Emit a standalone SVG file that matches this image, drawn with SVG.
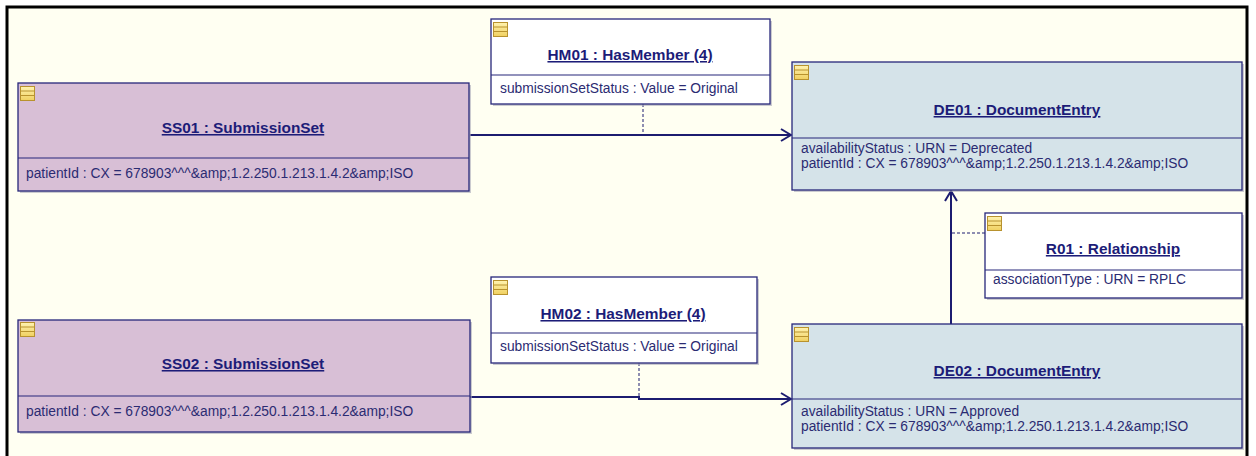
<svg xmlns="http://www.w3.org/2000/svg" xmlns:xlink="http://www.w3.org/1999/xlink" width="1256" height="456" viewBox="0 0 1256 456">
<style>
.frame{fill:none;stroke:#000;stroke-width:3}
.box{stroke:#27277a;stroke-width:1.3}
.ss{fill:#d8bfd6}
.de{fill:#d5e3e9}
.wh{fill:#ffffff}
.shadow{fill:#a8a8b8;opacity:0.6}
.sep{stroke:#27277a;stroke-width:1.2}
.title{font-family:"Liberation Sans",Arial,sans-serif;font-weight:bold;font-size:15.4px;fill:#1c1c78;text-anchor:middle;text-decoration:underline}
.attr{font-family:"Liberation Sans",Arial,sans-serif;font-size:13.8px;fill:#2b2b72}
.conn{fill:none;stroke:#1c1c70;stroke-width:2}
.dash{fill:none;stroke:#1c1c70;stroke-width:1;stroke-dasharray:3,2}
</style>
<defs>
<linearGradient id="ig" x1="0" y1="0" x2="0" y2="1">
<stop offset="0" stop-color="#fff3b0"/>
<stop offset="1" stop-color="#f0d060"/>
</linearGradient>
<g id="icon">
<rect x="0.5" y="0.5" width="14" height="14" fill="url(#ig)" stroke="#b8922e" stroke-width="1"/>
<line x1="1" y1="5" x2="14" y2="5" stroke="#b8922e" stroke-width="1"/>
<line x1="1" y1="9.5" x2="14" y2="9.5" stroke="#b8922e" stroke-width="1"/>
</g>
<marker id="arr" viewBox="0 0 12 14" refX="11" refY="7" markerWidth="12" markerHeight="14" markerUnits="userSpaceOnUse" orient="auto">
<path d="M1,1 L11,7 L1,13" fill="none" stroke="#1c1c70" stroke-width="2"/>
</marker>
</defs>
<rect x="0" y="0" width="1256" height="456" fill="#ffffff"/>
<rect x="7" y="7" width="1240" height="452" fill="#fffff2"/>
<path class="frame" d="M7,460 L7,7 L1247,7 L1247,460"/>

<g id="connectors">
<path class="conn" d="M470,135 L791,135" marker-end="url(#arr)"/>
<path class="dash" d="M643,104 L643,135"/>
<path class="conn" d="M470,397 L639,397 L639,399 L791,399" marker-end="url(#arr)"/>
<path class="dash" d="M639,363 L639,397"/>
<path class="conn" d="M951,324 L951,191" marker-end="url(#arr)"/>
<path class="dash" d="M952,233 L985,233"/>
</g>

<g id="SS01">
<rect class="shadow" x="20" y="85" width="451" height="108"/>
<rect class="box ss" x="18" y="83" width="451" height="108"/>
<line class="sep" x1="18" y1="158" x2="469" y2="158"/>
<use xlink:href="#icon" x="20" y="86"/>
<text class="title" x="243" y="133">SS01 : SubmissionSet</text>
<text class="attr" x="26" y="178">patientId : CX = 678903^^^&amp;amp;1.2.250.1.213.1.4.2&amp;amp;ISO</text>
</g>

<g id="HM01">
<rect class="shadow" x="493" y="21" width="279" height="85"/>
<rect class="box wh" x="491" y="19" width="279" height="85"/>
<line class="sep" x1="491" y1="75" x2="770" y2="75"/>
<use xlink:href="#icon" x="493" y="22"/>
<text class="title" x="630" y="60">HM01 : HasMember (4)</text>
<text class="attr" x="500" y="93">submissionSetStatus : Value = Original</text>
</g>

<g id="DE01">
<rect class="shadow" x="794" y="64" width="450" height="128"/>
<rect class="box de" x="792" y="62" width="450" height="128"/>
<line class="sep" x1="792" y1="138" x2="1242" y2="138"/>
<use xlink:href="#icon" x="794" y="65"/>
<text class="title" x="1017" y="115">DE01 : DocumentEntry</text>
<text class="attr" x="801" y="153">availabilityStatus : URN = Deprecated</text>
<text class="attr" x="801" y="168">patientId : CX = 678903^^^&amp;amp;1.2.250.1.213.1.4.2&amp;amp;ISO</text>
</g>

<g id="R01">
<rect class="shadow" x="987" y="215" width="257" height="85"/>
<rect class="box wh" x="985" y="213" width="257" height="85"/>
<line class="sep" x1="985" y1="270" x2="1242" y2="270"/>
<use xlink:href="#icon" x="987" y="216"/>
<text class="title" x="1113" y="254">R01 : Relationship</text>
<text class="attr" x="993" y="284">associationType : URN = RPLC</text>
</g>

<g id="SS02">
<rect class="shadow" x="20" y="322" width="452" height="112"/>
<rect class="box ss" x="18" y="320" width="452" height="112"/>
<line class="sep" x1="18" y1="396" x2="470" y2="396"/>
<use xlink:href="#icon" x="20" y="322"/>
<text class="title" x="243" y="369">SS02 : SubmissionSet</text>
<text class="attr" x="26" y="416">patientId : CX = 678903^^^&amp;amp;1.2.250.1.213.1.4.2&amp;amp;ISO</text>
</g>

<g id="HM02">
<rect class="shadow" x="493" y="279" width="266" height="86"/>
<rect class="box wh" x="491" y="277" width="266" height="86"/>
<line class="sep" x1="491" y1="333" x2="757" y2="333"/>
<use xlink:href="#icon" x="493" y="280"/>
<text class="title" x="623" y="319">HM02 : HasMember (4)</text>
<text class="attr" x="500" y="351">submissionSetStatus : Value = Original</text>
</g>

<g id="DE02">
<rect class="shadow" x="794" y="326" width="450" height="124"/>
<rect class="box de" x="792" y="324" width="450" height="124"/>
<line class="sep" x1="792" y1="399" x2="1242" y2="399"/>
<use xlink:href="#icon" x="794" y="327"/>
<text class="title" x="1017" y="376">DE02 : DocumentEntry</text>
<text class="attr" x="801" y="416">availabilityStatus : URN = Approved</text>
<text class="attr" x="801" y="431">patientId : CX = 678903^^^&amp;amp;1.2.250.1.213.1.4.2&amp;amp;ISO</text>
</g>
</svg>
